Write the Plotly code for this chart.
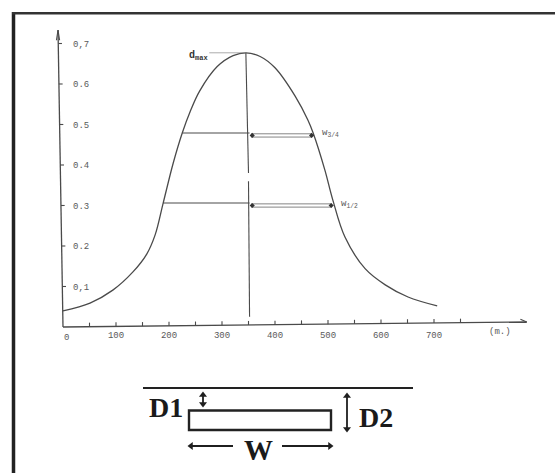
import plotly.graph_objects as go

W, H = 555, 474

# ---- data ----
curve_x = [0, 51, 94, 132, 158, 174, 189, 208, 225, 240, 258, 291, 321, 345, 372, 400, 438, 462, 472, 494, 509, 532, 570, 608, 651, 706]
curve_y = [0.040, 0.059, 0.091, 0.136, 0.180, 0.228, 0.306, 0.405, 0.479, 0.532, 0.583, 0.643, 0.670, 0.677, 0.668, 0.640, 0.570, 0.511, 0.479, 0.388, 0.314, 0.222, 0.144, 0.104, 0.074, 0.052]
x_tick_values = [100, 200, 300, 400, 500, 600, 700]
x_tick_labels = ["100", "200", "300", "400", "500", "600", "700"]
x_minor_ticks = [50, 100, 150, 200, 250, 300, 350, 400, 450, 500, 550, 600, 650, 700, 750]
y_tick_values = [0.1, 0.2, 0.3, 0.4, 0.5, 0.6, 0.7]
y_tick_labels = ["0,1", "0.2", "0.3", "0.4", "0.5", "0.6", "0,7"]
peak_x, peak_y = 345, 0.677
level_3_4 = 0.479
level_1_2 = 0.306
left_3_4, right_3_4 = 225, 472
left_1_2, right_1_2 = 189, 509
axis_x_end = 875
axis_x_end_y = 0.0123
axis_y_top = 0.733
axis_y_top_x = -9.4

INK = "#4a4a4a"
TXT = "#5a5a5a"
DARK = "#1f1f1f"
MONO = "Liberation Mono"
SERIF = "Liberation Serif"


def tilt_x(x):
    return axis_x_end_y * x / axis_x_end


def tilt_y(y):
    return axis_y_top_x * y / axis_y_top


def join(segments):
    xs, ys = [], []
    for (a, b) in segments:
        xs += [a[0], b[0], None]
        ys += [a[1], b[1], None]
    return xs, ys


fig = go.Figure()


def line(xs, ys, width=1.1, color=INK, **kw):
    fig.add_trace(go.Scatter(x=xs, y=ys, mode="lines", hoverinfo="skip",
                             line=dict(color=color, width=width, **kw)))


# curve
line(curve_x, curve_y, width=1.3, shape="spline", smoothing=1.0)
# axes
line([0, axis_x_end], [0, axis_x_end_y], width=1.3)
line([0, axis_y_top_x], [0, axis_y_top], width=1.3)
# tick marks
xs, ys = join([((t, tilt_x(t)), (t, tilt_x(t) + 0.010)) for t in x_minor_ticks])
line(xs, ys)
xs, ys = join([((tilt_y(v), v), (tilt_y(v) + 7, v)) for v in y_tick_values])
line(xs, ys)
# axis arrow tips
xs, ys = join([((axis_x_end - 12, axis_x_end_y + 0.007), (axis_x_end, axis_x_end_y)),
               ((axis_y_top_x - 3, axis_y_top - 0.025), (axis_y_top_x, axis_y_top)),
               ((axis_y_top_x + 3, axis_y_top - 0.025), (axis_y_top_x, axis_y_top))])
line(xs, ys)
# centre line with its small gap
xs, ys = join([((peak_x, peak_y), (350, 0.38)), ((350, 0.36), (352, 0.025))])
line(xs, ys)
# dmax leader
line([276, peak_x], [peak_y, peak_y], width=0.7, color="#888888")
# width levels
xs, ys = join([((left_3_4, level_3_4), (352, level_3_4)),
               ((left_1_2, level_1_2), (352, level_1_2))])
line(xs, ys)
xs, ys = join([((355, level_3_4 - 0.002), (right_3_4 - 2, level_3_4 - 0.002)),
               ((355, level_3_4 - 0.010), (right_3_4 - 2, level_3_4 - 0.010)),
               ((355, level_1_2 - 0.002), (right_1_2 - 2, level_1_2 - 0.002)),
               ((355, level_1_2 - 0.010), (right_1_2 - 2, level_1_2 - 0.010))])
line(xs, ys, width=0.9, color="#777777")
fig.add_trace(go.Scatter(
    x=[357, right_3_4 - 3, 357, right_1_2 - 3],
    y=[level_3_4 - 0.006, level_3_4 - 0.006, level_1_2 - 0.006, level_1_2 - 0.006],
    mode="markers", hoverinfo="skip",
    marker=dict(symbol="diamond", size=4, color="#333333")))


def px(x):
    return x / W


def py(y):
    return 1 - y / H


def dx(x):
    return (x - 63) / 0.53


def dy(y):
    return (327 - y) / 405


shapes = [
    dict(type="line", xref="paper", yref="paper", x0=px(13.5), x1=px(13.5), y0=py(12), y1=py(473),
         line=dict(color="#222222", width=3.5)),
    dict(type="line", xref="paper", yref="paper", x0=px(12), x1=1, y0=py(13.3), y1=py(13.3),
         line=dict(color="#333333", width=2.5)),
    dict(type="line", xref="paper", yref="paper", x0=px(143), x1=px(413), y0=py(388), y1=py(388),
         line=dict(color="#222222", width=2.2)),
    dict(type="rect", xref="paper", yref="paper", x0=px(189), x1=px(331), y0=py(410.5), y1=py(430),
         line=dict(color="#222222", width=2.4)),
]

annotations = []


def label(x, y, text, size, family, color, bold=False):
    annotations.append(dict(xref="paper", yref="paper", x=px(x), y=py(y), text=f"<b>{text}</b>" if bold else text,
                            showarrow=False, xanchor="center", yanchor="middle",
                            font=dict(family=family, size=size, color=color)))


def arrow(x0, y0, x1, y1, start_symbol, end_symbol):
    fig.add_trace(go.Scatter(
        x=[dx(x0), dx(x1)], y=[dy(y0), dy(y1)], mode="lines+markers", hoverinfo="skip",
        line=dict(color=DARK, width=1.8),
        marker=dict(symbol=[start_symbol, end_symbol], size=7, color=DARK)))


label(66, 338, "0", 9, MONO, TXT)
label(198, 56, "<b>d<sub>max</sub></b>", 10, MONO, "#333333")
label(330, 133, "w<sub>3/4</sub>", 9, MONO, TXT)
label(349, 204, "w<sub>1/2</sub>", 9, MONO, TXT)
label(500, 332, "(m.)", 9, MONO, TXT)
label(166, 407, "D1", 28, SERIF, "#1a1a1a", bold=True)
label(376, 417, "D2", 28, SERIF, "#1a1a1a", bold=True)
label(258, 450, "W", 29, SERIF, "#1a1a1a", bold=True)
arrow(203, 395, 203, 404, "triangle-up", "triangle-down")
arrow(347, 396, 347, 429, "triangle-up", "triangle-down")
arrow(233, 446, 191, 446, "line-ns", "triangle-left")
arrow(282, 446, 330, 446, "line-ns", "triangle-right")

fig.update_layout(
    width=W, height=H, autosize=False, showlegend=False,
    margin=dict(l=0, r=0, t=0, b=0, pad=0),
    paper_bgcolor="white", plot_bgcolor="white",
    shapes=shapes, annotations=annotations,
    xaxis=dict(range=[-118.87, 928.3], domain=[0, 1], anchor="free", position=py(327),
               showgrid=False, zeroline=False, showline=False, ticks="", fixedrange=True,
               tickmode="array", tickvals=x_tick_values, ticktext=x_tick_labels,
               ticklabelstandoff=1, tickfont=dict(family=MONO, size=9, color=TXT)),
    yaxis=dict(range=[-0.363, 0.8074], domain=[0, 1], anchor="free", position=px(63),
               showgrid=False, zeroline=False, showline=False, ticks="", fixedrange=True,
               tickmode="array", tickvals=y_tick_values, ticktext=y_tick_labels,
               ticklabelposition="inside", ticklabelstandoff=6,
               tickfont=dict(family=MONO, size=9, color=TXT)),
)

fig.write_html("out.html", config=dict(displayModeBar=False),
               post_script="document.body.style.margin='0';document.documentElement.style.overflow='hidden';")
